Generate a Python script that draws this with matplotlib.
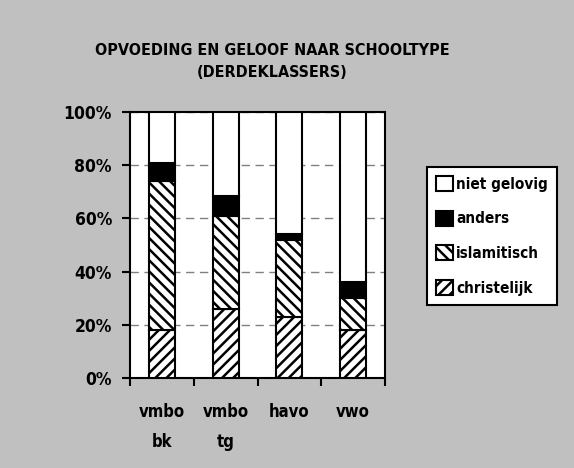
import numpy as np
import matplotlib
matplotlib.use("Agg")
import matplotlib.pyplot as plt
from matplotlib.patches import Patch

# data (percentages)
schooltypes = ["vmbo\nbk", "vmbo\ntg", "havo", "vwo"]
christelijk = [18, 26, 23, 18]
islamitisch = [56, 35, 29, 12]
anders = [7, 7.5, 2, 6]
niet_gelovig = [19, 31.5, 46, 64]

series_labels = ["christelijk", "islamitisch", "anders", "niet gelovig"]
y_ticks = [0, 20, 40, 60, 80, 100]

plt.rcParams["font.family"] = ["DejaVu Sans"]
plt.rcParams["font.stretch"] = "condensed"
plt.rcParams["font.weight"] = "bold"
plt.rcParams["hatch.linewidth"] = 1.8

bg = "#c0c0c0"
fig = plt.figure(figsize=(5.74, 4.68), dpi=100, facecolor=bg)
ax = fig.add_axes([0.2265, 0.1923, 0.4443, 0.5684])
ax.set_facecolor("white")

x = np.arange(len(schooltypes))
width = 0.41
styles = [
    dict(facecolor="white", hatch="///"),
    dict(facecolor="white", hatch="\\\\\\"),
    dict(facecolor="black", hatch=None),
    dict(facecolor="white", hatch=None),
]
bottom = np.zeros(len(schooltypes))
handles = []
for vals, label, st in zip([christelijk, islamitisch, anders, niet_gelovig], series_labels, styles):
    ax.bar(x, vals, width, bottom=bottom, edgecolor="black", linewidth=1.5,
           zorder=3, **st)
    bottom += np.array(vals)
    handles.append(Patch(edgecolor="black", linewidth=1.5, label=label, **st))

ax.set_xlim(-0.5, len(schooltypes) - 0.5)
ax.set_ylim(0, 100)
ax.set_yticks(y_ticks)
ax.set_yticklabels([f"{t}%" for t in y_ticks], fontsize=12.5, fontweight="bold")
ax.yaxis.grid(True, color="#808080", linestyle=(0, (6, 4)), linewidth=1, zorder=0)

# tick marks at the category boundaries, labels under the bars
ax.set_xticks(np.arange(-0.5, len(schooltypes)), minor=False)
ax.set_xticklabels([])
ax.set_xticks(x, minor=True)
ax.set_xticklabels(schooltypes, minor=True, fontsize=12, fontweight="bold",
                   linespacing=1.85, va="top")
ax.tick_params(axis="x", which="minor", length=0, pad=18)
ax.tick_params(axis="both", which="major", direction="out", length=6, width=1.5)
ax.tick_params(axis="y", pad=7)
for s in ax.spines.values():
    s.set_linewidth(1.5)

fig.text(0.474, 0.893, "OPVOEDING EN GELOOF NAAR SCHOOLTYPE", ha="center", va="center",
         fontsize=11.5, fontweight="bold")
fig.text(0.474, 0.846, "(DERDEKLASSERS)", ha="center", va="center",
         fontsize=11.5, fontweight="bold")

leg = ax.legend(handles[::-1], [h.get_label() for h in handles[::-1]],
                loc="upper left", bbox_to_anchor=(0.744, 0.643),
                bbox_transform=fig.transFigure, fancybox=False, framealpha=1,
                edgecolor="black", labelspacing=1.25, borderaxespad=0,
                handlelength=1.1, handleheight=1.1, handletextpad=0.2,
                borderpad=0.6, prop={"weight": "bold", "size": 11,
                                     "stretch": "condensed"})
leg.get_frame().set_linewidth(1.5)

fig.savefig("out.png", dpi=100, facecolor=bg)
